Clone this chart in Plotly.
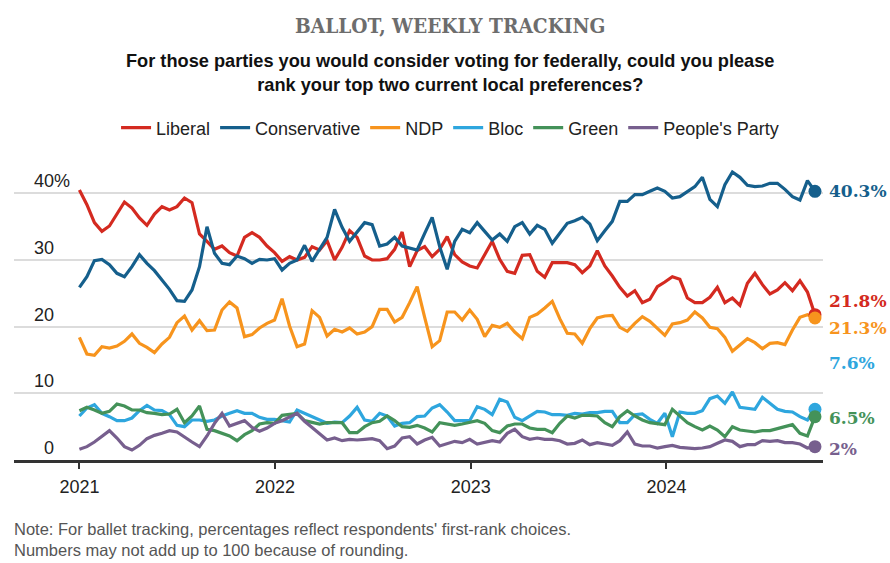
import pandas as pd
import plotly.graph_objects as go

# ---- data (one value every two weeks) ----
start_date = "2021-01-01"
n_points = 99

liberal = [40.5, 38.3, 35.6, 34.3, 35.1, 36.8, 38.7, 37.8, 36.3, 35.2, 36.9, 38.0, 37.5, 38.0, 39.3, 38.6, 33.9, 32.8, 31.6, 32.1, 31.1, 30.6, 33.4, 34.1, 33.4, 32.1, 31.1,
           29.8, 30.5, 30.0, 30.4, 32.0, 31.5, 32.9, 30.0, 31.9, 34.4, 33.4, 30.6, 30.0, 30.0, 30.2, 31.6, 34.2, 29.0, 31.4, 32.0, 30.5, 31.6, 33.5, 30.8, 29.7, 29.1, 28.8,
           30.9, 32.8, 30.1, 28.3, 28.0, 30.7, 30.8, 28.3, 27.4, 29.6, 29.6, 29.6, 29.3, 28.1, 29.1, 31.4, 29.1, 27.6, 25.9, 24.6, 25.4, 23.6, 24.1, 26.0, 26.7, 27.5,
           27.1, 24.3, 23.6, 23.6, 24.4, 25.9, 23.6, 24.3, 23.2, 26.5, 28.0, 26.3, 24.9, 25.5, 26.6, 25.4, 26.9, 25.2, 21.8]
conservative = [25.9, 27.5, 29.9, 30.1, 29.3, 28.0, 27.5, 29.0, 30.8, 29.5, 28.4, 27.0, 25.6, 23.9, 23.8, 25.5, 29.0, 35.0, 31.0, 29.5, 29.3, 30.6, 30.2, 29.5, 30.1, 30.0, 30.2,
                28.5, 29.5, 30.0, 32.2, 29.8, 31.5, 33.4, 37.6, 34.9, 32.8, 34.2, 35.6, 35.3, 32.1, 32.4, 33.4, 32.1, 31.8, 31.5, 34.0, 36.4, 32.0, 28.6, 32.8, 34.6, 34.1, 35.6,
                34.3, 33.0, 33.9, 32.8, 35.0, 35.6, 33.9, 35.2, 34.6, 32.5, 34.0, 35.5, 35.9, 36.4, 35.4, 32.9, 34.4, 35.8, 38.8, 38.8, 39.8, 39.8, 40.3, 40.8, 40.3, 39.3,
                39.5, 40.3, 41.0, 42.4, 39.1, 38.0, 41.3, 43.2, 42.4, 41.2, 41.0, 41.1, 41.5, 41.5, 40.6, 39.5, 39.0, 41.9, 40.3]
ndp = [18.4, 15.9, 15.7, 17.0, 16.8, 17.1, 17.8, 18.9, 17.5, 16.9, 16.1, 17.4, 18.4, 20.6, 21.6, 19.5, 20.9, 19.4, 19.5, 22.5, 23.7, 22.8, 18.5, 18.8, 19.8, 20.5, 21.0,
       24.2, 20.1, 17.0, 17.4, 22.4, 21.4, 18.6, 19.6, 19.2, 19.8, 18.9, 19.2, 20.0, 22.6, 22.6, 20.7, 21.4, 23.6, 26.0, 21.4, 17.0, 17.9, 22.2, 22.2, 21.0, 22.5, 21.1,
       18.5, 20.2, 19.9, 20.5, 19.2, 18.2, 21.4, 21.9, 22.8, 23.8, 21.2, 19.0, 18.9, 17.5, 19.7, 21.3, 21.6, 21.7, 19.9, 19.3, 20.5, 21.5, 20.8, 19.8, 18.7, 20.4,
       20.6, 21.0, 22.2, 21.3, 19.9, 19.7, 18.4, 16.3, 17.3, 18.2, 17.6, 16.7, 17.5, 17.6, 17.3, 19.5, 21.4, 21.8, 21.3]
bloc = [6.6, 7.8, 8.3, 7.0, 6.5, 5.9, 5.9, 6.3, 7.4, 8.2, 7.5, 7.4, 6.8, 5.2, 5.0, 6.0, 6.0, 5.8, 6.0, 6.6, 7.0, 7.4, 7.0, 7.0, 6.4, 6.1, 6.1,
        5.9, 5.7, 7.5, 7.0, 6.5, 6.1, 5.5, 5.7, 5.6, 6.6, 7.9, 6.0, 5.8, 7.0, 6.6, 5.1, 5.5, 5.6, 6.5, 6.6, 7.8, 8.3, 7.2, 5.9, 5.9, 5.9, 8.0,
        7.6, 6.8, 9.1, 8.7, 6.4, 5.9, 6.6, 7.3, 7.2, 6.8, 6.8, 6.7, 7.0, 6.9, 7.1, 7.1, 7.3, 7.3, 5.6, 5.6, 6.8, 6.9, 6.1, 5.5, 7.0, 3.5,
        7.2, 7.0, 7.0, 7.4, 9.2, 9.6, 8.5, 10.2, 7.9, 7.7, 7.6, 9.4, 8.5, 7.6, 7.3, 7.2, 6.5, 6.0, 7.6]
green = [7.4, 7.9, 7.5, 7.0, 7.3, 8.4, 8.1, 7.5, 7.5, 7.1, 7.0, 6.8, 6.9, 7.6, 5.6, 6.6, 8.1, 4.6, 4.4, 4.0, 3.6, 2.9, 3.8, 4.4, 5.4, 5.6, 5.5,
         6.7, 6.9, 7.0, 5.9, 5.6, 5.4, 5.6, 5.6, 5.6, 4.1, 4.1, 5.0, 5.6, 5.8, 6.6, 5.9, 5.0, 4.9, 5.2, 4.8, 4.2, 5.6, 5.4, 5.2, 5.4, 5.6, 5.9,
         5.5, 4.4, 4.1, 5.1, 5.4, 5.4, 4.8, 4.6, 4.6, 4.1, 5.5, 6.6, 6.3, 6.7, 6.7, 6.6, 5.6, 5.0, 6.5, 7.4, 6.6, 6.0, 5.6, 5.5, 5.3, 7.6,
         6.6, 5.6, 5.0, 4.5, 5.1, 4.5, 3.5, 5.0, 4.5, 4.3, 4.2, 4.4, 4.4, 4.7, 5.0, 5.3, 4.0, 3.6, 6.5]
peoples_party = [1.6, 2.0, 2.7, 3.5, 4.4, 3.3, 2.0, 1.5, 2.2, 3.2, 3.7, 4.0, 4.4, 4.2, 3.4, 2.7, 2.0, 3.6, 5.5, 7.0, 5.1, 5.5, 5.9, 4.9, 4.3, 4.8, 5.5,
                 5.9, 6.4, 7.0, 5.8, 4.9, 4.0, 3.0, 3.3, 2.9, 3.1, 3.0, 3.1, 3.2, 2.9, 1.7, 2.1, 3.3, 3.5, 2.4, 3.0, 3.4, 2.1, 2.5, 2.8, 2.6, 3.1, 2.4,
                 2.6, 2.9, 2.7, 4.0, 4.6, 3.5, 3.1, 3.3, 3.1, 3.1, 2.9, 2.4, 2.5, 3.0, 2.3, 2.6, 2.4, 2.2, 2.9, 4.2, 2.4, 2.1, 2.1, 1.8, 2.0, 2.2,
                 1.9, 1.8, 1.7, 1.8, 2.0, 2.5, 3.0, 2.8, 2.0, 2.3, 2.3, 2.9, 2.8, 2.9, 2.6, 2.6, 2.4, 1.8, 2.0]

party_names = ["Liberal", "Conservative", "NDP", "Bloc", "Green", "People's Party"]
final_labels = ["21.8%", "40.3%", "21.3%", "7.6%", "6.5%", "2%"]
year_ticks = ["2021-01-01", "2022-01-01", "2023-01-01", "2024-01-01"]
year_labels = ["2021", "2022", "2023", "2024"]
y_ticks = [0, 10, 20, 30, 40]
y_tick_labels = ["0", "10", "20", "30", "40%"]

# ---- styles ----
colors = ["#d42a20", "#155f8c", "#f7941d", "#2ea6de", "#449259", "#775f8e"]
label_y = [23.85, 40.3, 19.8, 14.55, 6.3, 1.65]   # label placement (avoid overlap)
series = [liberal, conservative, ndp, bloc, green, peoples_party]

dates = pd.date_range(start_date, periods=n_points, freq="14D")

fig = go.Figure()
for name, vals, col in zip(party_names, series, colors):
    fig.add_trace(go.Scatter(x=dates, y=vals, mode="lines", name=name,
                             line=dict(color=col, width=3.2), cliponaxis=False))
for name, vals, col in zip(party_names, series, colors):
    fig.add_trace(go.Scatter(x=[dates[-1]], y=[vals[-1]], mode="markers", showlegend=False,
                             marker=dict(color=col, size=13), cliponaxis=False, hoverinfo="skip"))

SANS = "Liberation Sans, Arial, sans-serif"
SLAB = "DejaVu Serif, serif"
SLAB_COND = "DejaVu Serif Condensed, DejaVu Serif, serif"

ann = []
for lab, ly, col in zip(final_labels, label_y, colors):
    ann.append(dict(x=dates[-1], y=ly, xref="x", yref="y", text="<b>" + lab + "</b>", showarrow=False,
                    xanchor="left", yanchor="middle", xshift=12,
                    font=dict(family=SLAB, size=17, color=col)))
for v, t in zip(y_ticks, y_tick_labels):
    # numbers end at the same x; a single digit starts one digit further right
    xpos = 0.0346 if len(t) == 1 else 0.0222
    ann.append(dict(x=xpos, y=v, xref="paper", yref="y", text=t, showarrow=False,
                    xanchor="left", yanchor="bottom",
                    font=dict(family=SANS, size=18, color="#222")))
ann.append(dict(x=0.539, y=1.447, xref="paper", yref="paper", text="<b>BALLOT, WEEKLY TRACKING</b>",
                showarrow=False, xanchor="center", yanchor="middle",
                font=dict(family=SLAB_COND, size=20.7, color="#6d6d6d")))
ann.append(dict(x=0.539, y=1.29, xref="paper", yref="paper",
                text="<b>For those parties you would consider voting for federally, could you please<br>rank your top two current local preferences?</b>",
                showarrow=False, xanchor="center", yanchor="middle",
                font=dict(family=SANS, size=18.2, color="#111")))
ann.append(dict(x=-0.0025, y=-0.265, xref="paper", yref="paper",
                text="Note: For ballet tracking, percentages reflect respondents' first-rank choices.<br>Numbers may not add up to 100 because of rounding.",
                showarrow=False, xanchor="left", yanchor="middle", align="left",
                font=dict(family=SANS, size=16.5, color="#555")))

fig.update_layout(
    width=890, height=563,
    margin=dict(l=14, r=67, t=160, b=103),
    paper_bgcolor="white", plot_bgcolor="white",
    showlegend=True,
    legend=dict(orientation="h", x=0.539, xanchor="center", y=1.107, yanchor="middle",
                font=dict(family=SANS, size=18, color="#222"), itemwidth=30,
                bgcolor="rgba(0,0,0,0)"),
    annotations=ann,
    hovermode=False,
)
fig.update_xaxes(range=["2020-09-01", "2024-10-19"], tickvals=year_ticks, ticktext=year_labels,
                 showgrid=False, showline=True, linecolor="#333", linewidth=2.5,
                 ticks="outside", ticklen=6, tickwidth=1.5, tickcolor="#333",
                 ticklabelstandoff=3,
                 tickfont=dict(family=SANS, size=18, color="#222"), zeroline=False)
fig.update_yaxes(range=[0, 45], tickvals=[10, 20, 30, 40], showticklabels=False,
                 showgrid=True, gridcolor="#dcdcdc", gridwidth=1.5, zeroline=False, showline=False)

fig.write_html("out.html")
